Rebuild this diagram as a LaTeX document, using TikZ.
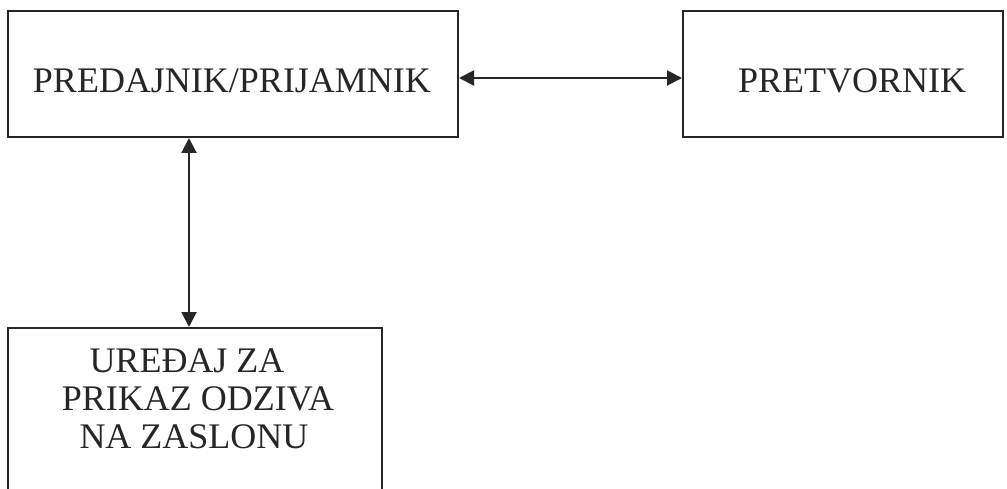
\documentclass[tikz,border=0pt]{standalone}
\usepackage{fontspec}
\setmainfont{Liberation Serif}
\usetikzlibrary{arrows.meta}
\begin{document}
\begin{tikzpicture}[x=1pt,y=-1pt,
  box/.style={draw=black!85, line width=2pt, rectangle, inner sep=0pt},
  lbl/.style={anchor=base, inner sep=0pt, text=black!85, font=\fontsize{36}{38}\selectfont},
  link/.style={line width=2pt, draw=black!85, {Triangle[length=15pt,width=15pt]}-{Triangle[length=15pt,width=15pt]}}]
\useasboundingbox (0,0) rectangle (1007,489);
\clip (0,0) rectangle (1007,489);
\fill[white] (0,0) rectangle (1007,489);
\node[box, minimum width=450pt, minimum height=126pt] (tx) at (233,74) {};
\node[box, minimum width=320pt, minimum height=126pt] (pt) at (843,74) {};
\node[box, minimum width=374pt, minimum height=200pt] (ud) at (195,428) {};
\node[lbl] (txl) at (232,93) {PREDAJNIK/PRIJAMNIK};
\node[lbl] (ptl) at (852,93) {PRETVORNIK};
\node[lbl] (ud1) at (187,372) {UREĐAJ ZA};
\node[lbl] (ud2) at (198,410) {PRIKAZ ODZIVA};
\node[lbl] (ud3) at (194,448) {NA ZASLONU};
\draw[link] (tx.east |- 0,78) -- (pt.west |- 0,78);
\draw[link] (tx.south -| 189,0) -- (ud.north -| 189,0);
\end{tikzpicture}
\end{document}
